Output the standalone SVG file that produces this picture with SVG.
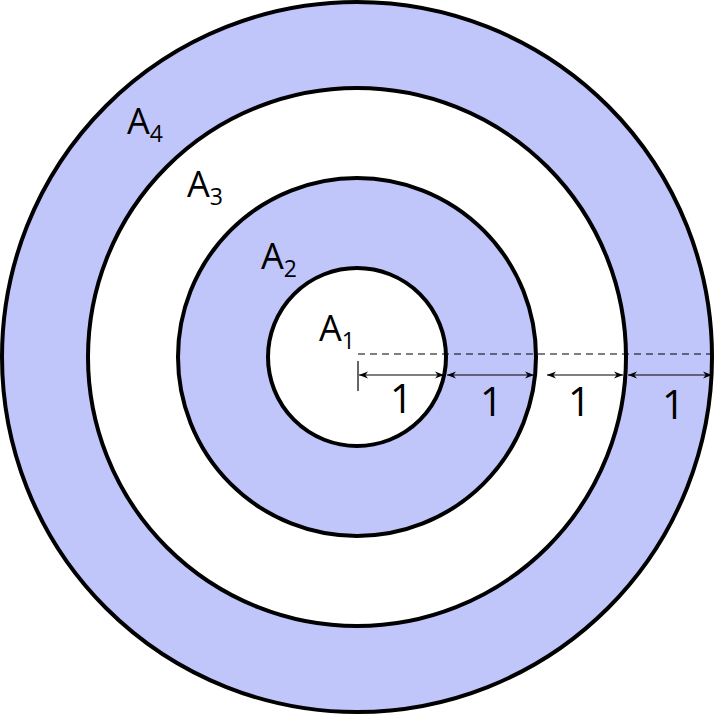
<svg xmlns="http://www.w3.org/2000/svg" width="717" height="717" viewBox="0 0 717 717">
<defs>
<style>
.ring{stroke:#000;stroke-width:4}
.blue{fill:#c0c5fa}
.white{fill:#fff}
.t{font-family:"Open Sans","DejaVu Sans",sans-serif;font-size:36px;fill:#000}
.n{font-size:40px}
.s{font-size:23px}
.dim{stroke:#000;stroke-width:1.2;fill:none}
</style>
<marker id="ah" viewBox="0 0 10 10" refX="10" refY="5" markerWidth="9" markerHeight="9" orient="auto-start-reverse" markerUnits="userSpaceOnUse"><path d="M0,1 L10,5 L0,9 L3,5 Z" fill="#000"/></marker>
</defs>
<g id="ring4"><circle class="ring blue" cx="357" cy="357" r="355"/></g>
<g id="ring3"><circle class="ring white" cx="357" cy="357" r="269"/></g>
<g id="ring2"><circle class="ring blue" cx="357" cy="357" r="179"/></g>
<g id="ring1"><circle class="ring white" cx="357" cy="357" r="89"/></g>
<g id="connectors">
<line class="dim" x1="358" y1="354" x2="714" y2="354" stroke-dasharray="7,5"/>
<line class="dim" x1="358" y1="361" x2="358" y2="391"/>
<line class="dim" x1="359" y1="375" x2="444" y2="375" marker-start="url(#ah)" marker-end="url(#ah)"/>
<line class="dim" x1="447" y1="375" x2="534" y2="375" marker-start="url(#ah)" marker-end="url(#ah)"/>
<line class="dim" x1="547" y1="375" x2="623" y2="375" marker-start="url(#ah)" marker-end="url(#ah)"/>
<line class="dim" x1="628" y1="375" x2="712" y2="375" marker-start="url(#ah)" marker-end="url(#ah)"/>
</g>
<g id="labels">
<text class="t n" x="390" y="413">1</text>
<text class="t n" x="480" y="416">1</text>
<text class="t n" x="568" y="416">1</text>
<text class="t n" x="662" y="419">1</text>
<text class="t" x="127" y="134">A<tspan class="s" dy="8">4</tspan></text>
<text class="t" x="187" y="197">A<tspan class="s" dy="8">3</tspan></text>
<text class="t" x="261" y="269">A<tspan class="s" dy="8">2</tspan></text>
<text class="t" x="319" y="341">A<tspan class="s" dy="8">1</tspan></text>
</g>
</svg>
